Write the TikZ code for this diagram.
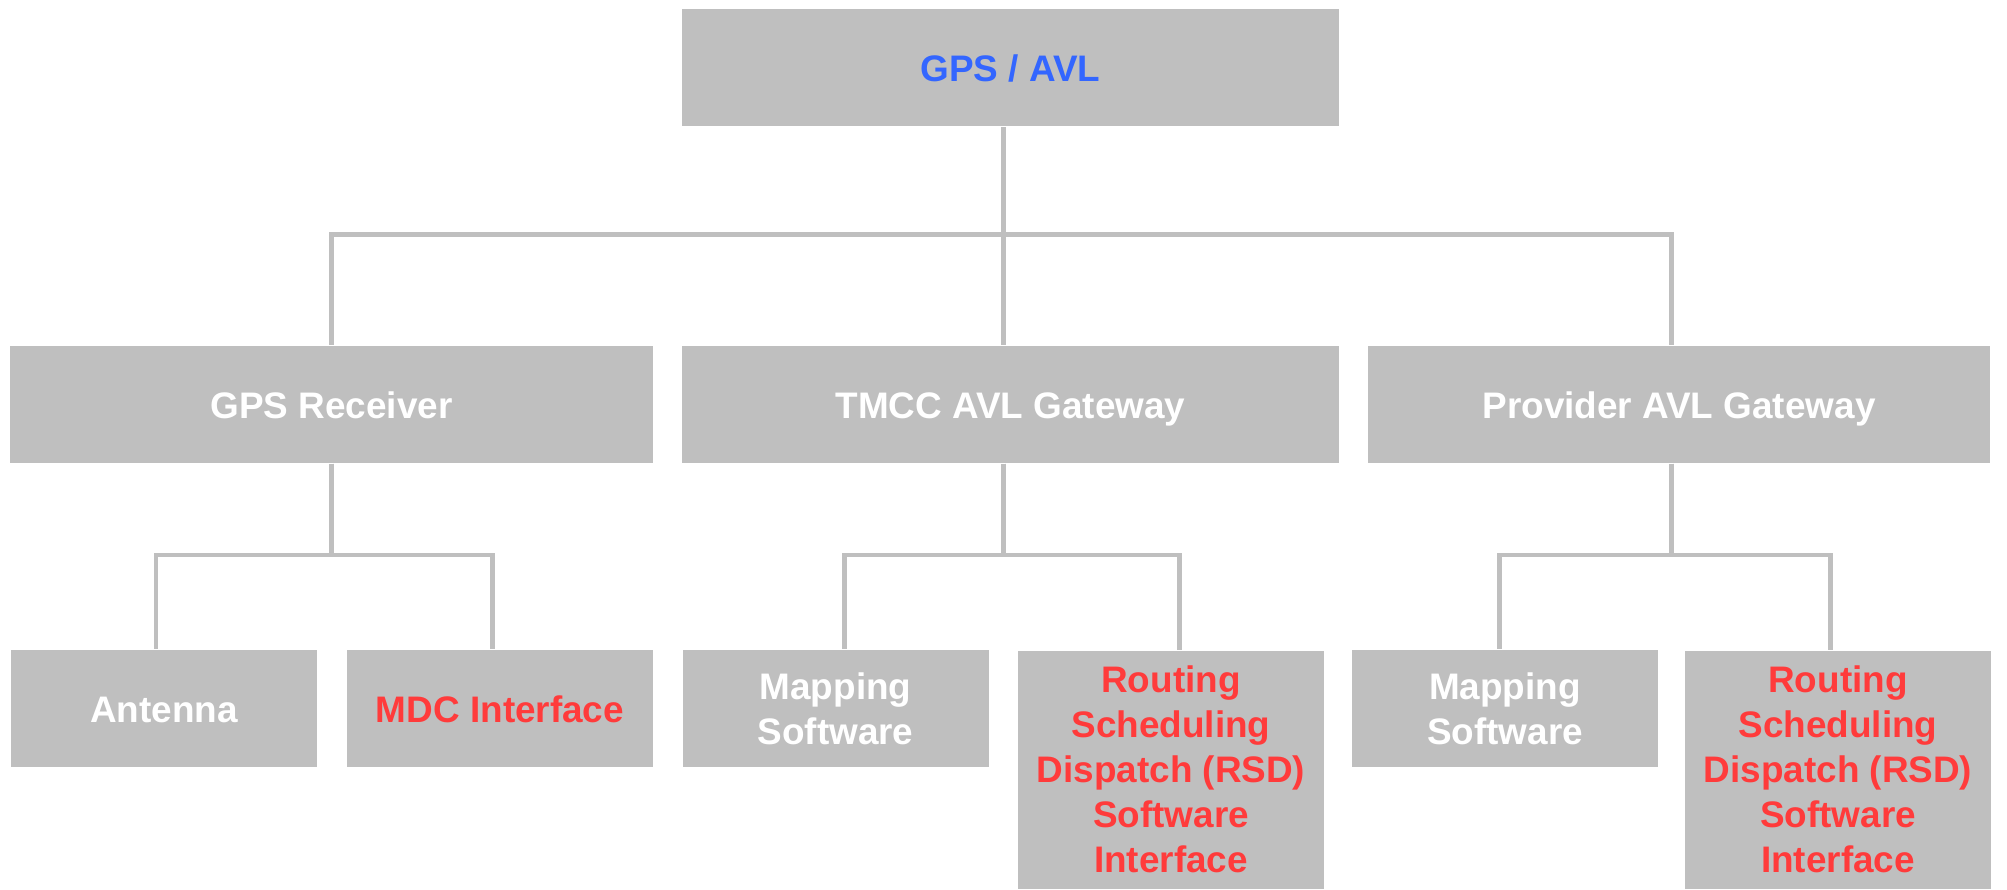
\documentclass[tikz,border=0pt]{standalone}
\usepackage{fontspec}
\setmainfont{Liberation Sans}
\definecolor{boxgray}{RGB}{191,191,191}
\definecolor{avlblue}{RGB}{51,102,255}
\definecolor{avlred}{RGB}{255,59,59}
\begin{document}
\begin{tikzpicture}[
  box/.style={fill=boxgray,inner sep=0pt,minimum height=1.17cm,text=white,align=center,
    font=\bfseries\fontsize{10.5}{12.8}\selectfont},
  oneline/.style={text height=1.75ex,text depth=.25ex},
  leaf/.style={box,minimum width=3.06cm},
  wire/.style={draw=boxgray,line width=1.42pt}]
\useasboundingbox (0,0) rectangle (20.07,-8.9);
\node[box,oneline,minimum width=6.57cm,text=avlblue] (top) at (10.105,-0.68) {GPS / AVL};
\begin{scope}[yshift=-4.045cm]
\node[box,oneline,minimum width=6.43cm] (recv) at (3.315,0) {GPS Receiver};
\node[box,oneline,minimum width=6.57cm] (tmcc) at (10.105,0) {TMCC AVL Gateway};
\node[box,oneline,minimum width=6.22cm] (prov) at (16.79,0) {Provider AVL Gateway};
\end{scope}
\begin{scope}[yshift=-7.085cm]
\node[leaf,oneline] (ant) at (1.64,0) {Antenna};
\node[leaf,oneline,text=avlred] (mdc) at (5.0,0) {MDC Interface};
\node[leaf] (mapa) at (8.355,0) {Mapping\\Software};
\node[leaf,text=avlred,minimum height=2.38cm,anchor=north] (rsda) at (11.71,0.585) {Routing\\Scheduling\\Dispatch (RSD)\\Software\\Interface};
\node[leaf] (mapb) at (15.05,0) {Mapping\\Software};
\node[leaf,text=avlred,minimum height=2.38cm,anchor=north] (rsdb) at (18.38,0.585) {Routing\\Scheduling\\Dispatch (RSD)\\Software\\Interface};
\end{scope}
\coordinate (busa) at (0,-2.35);
\coordinate (busb) at (0,-5.55);
\foreach \c/\d in {recv/0,tmcc/-0.075,prov/-0.08}
  \draw[wire] ([xshift=-0.075cm]top.south) -- ([xshift=-0.075cm]top.south |- busa) -| ([xshift=\d cm]\c.north);
\foreach \p/\s/\c/\d in {recv/0/ant/-0.08,recv/0/mdc/-0.08,tmcc/-0.075/mapa/0.085,tmcc/-0.075/rsda/0.08,prov/-0.08/mapb/-0.06,prov/-0.08/rsdb/-0.08}
  \draw[wire] ([xshift=\s cm]\p.south) -- ([xshift=\s cm]\p.south |- busb) -| ([xshift=\d cm]\c.north);
\end{tikzpicture}
\end{document}
